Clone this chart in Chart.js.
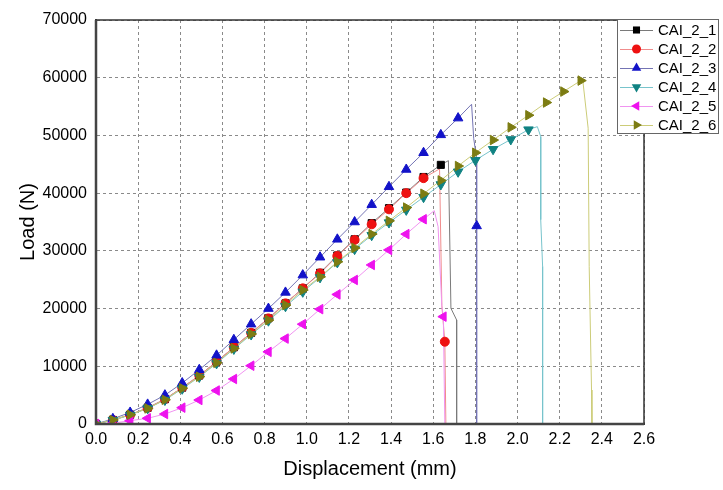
<!DOCTYPE html>
<html>
<head>
<meta charset="utf-8">
<script src="https://cdn.jsdelivr.net/npm/chart.js@4.4.0/dist/chart.umd.min.js"></script>
<style>
  html, body { margin: 0; background: #fff; }
</style>
</head>
<body>
<canvas id="loadChart" width="723" height="490"></canvas>
<script>
// displacement (mm) at each marker
const dispSteps = [0, 0.08, 0.162, 0.245, 0.327, 0.409, 0.49, 0.572, 0.654, 0.736, 0.818, 0.899, 0.981,
  1.063, 1.145, 1.227, 1.308, 1.39, 1.472, 1.554, 1.636, 1.718, 1.80, 1.884, 1.968, 2.052, 2.136, 2.218, 2.300];

const seriesNames = ['CAI_2_1', 'CAI_2_2', 'CAI_2_3', 'CAI_2_4', 'CAI_2_5', 'CAI_2_6'];

// load (N) at each marker, up to failure
const load1 = [0, 700, 1600, 2800, 4300, 6300, 8400, 10800, 13300, 15800, 18300, 20900, 23500, 26200, 29200, 32000, 34800, 37400, 40100, 42800, 44900];
const load2 = [0, 700, 1600, 2800, 4300, 6300, 8400, 10800, 13300, 15800, 18300, 20900, 23500, 26100, 29100, 31900, 34600, 37200, 40000, 42600];
const load3 = [0, 900, 2000, 3400, 5000, 7100, 9400, 11900, 14600, 17300, 20000, 22800, 25800, 28900, 32000, 35000, 38000, 41100, 44100, 47000, 50100, 53000];
const load4 = [0, 650, 1550, 2700, 4150, 6100, 8150, 10500, 13000, 15500, 17900, 20400, 22900, 25400, 28000, 30300, 32700, 34900, 37100, 39300, 41500, 43700, 45700, 47600, 49300, 51000];
const load5 = [0, 150, 570, 990, 1730, 2830, 4160, 5800, 7800, 10100, 12500, 14800, 17300, 19900, 22450, 24960, 27560, 30160, 32900, 35480];
const load6 = [0, 700, 1600, 2700, 4200, 6200, 8200, 10600, 13100, 15600, 18000, 20600, 23200, 25500, 28100, 30500, 32900, 35200, 37500, 39900, 42200, 44700, 47000, 49200, 51400, 53500, 55700, 57600, 59500];

// peak and failure drop after the last marker
const tail1X = [1.672, 1.684, 1.711, 1.711];
const tail1Y = [45630, 20050, 18020, 0];
const tail2X = [1.630, 1.641, 1.655, 1.660];
const tail2Y = [44200, 20500, 14260, 0];
const tail3X = [1.782, 1.792, 1.806, 1.806, 1.806];
const tail3Y = [55400, 49500, 46000, 34320, 0];
const tail4X = [2.094, 2.110, 2.110, 2.119, 2.119];
const tail4Y = [51520, 49800, 35400, 27300, 0];
const tail5X = [1.605, 1.623, 1.641, 1.648, 1.655];
const tail5Y = [36970, 34200, 20330, 18600, 0];
const tail6X = [2.309, 2.335, 2.340, 2.351, 2.353];
const tail6Y = [59740, 51250, 27260, 5890, 0];

// index of the tail point that carries a marker (-1 = none)
const tailMarks = [-1, 2, 3, -1, 3, -1];

const xTicks = [0, 0.2, 0.4, 0.6, 0.8, 1.0, 1.2, 1.4, 1.6, 1.8, 2.0, 2.2, 2.4, 2.6];
const yTicks = [0, 10000, 20000, 30000, 40000, 50000, 60000, 70000];

const loads = [load1, load2, load3, load4, load5, load6];
const tailsX = [tail1X, tail2X, tail3X, tail4X, tail5X, tail6X];
const tailsY = [tail1Y, tail2Y, tail3Y, tail4Y, tail5Y, tail6Y];

const styles = [
  { marker: '#000000', line: '#7a7a7a', shape: 'rect', rot: 0, r: 5 },
  { marker: '#ee1111', line: '#f08c8c', shape: 'circle', rot: 0, r: 4.5 },
  { marker: '#1212c8', line: '#7474b4', shape: 'triangle', rot: 0, r: 5.5 },
  { marker: '#108282', line: '#78c4cc', shape: 'triangle', rot: 180, r: 5.5 },
  { marker: '#ee12ee', line: '#f094f0', shape: 'triangle', rot: 270, r: 5.5 },
  { marker: '#7c7c12', line: '#cccc78', shape: 'triangle', rot: 90, r: 5.5 }
];

const FONT = '"Liberation Sans", Arial, sans-serif';

const datasets = [];
seriesNames.forEach((name, s) => {
  const st = styles[s];
  const steps = loads[s].map((y, i) => ({ x: dispSteps[i], y }));
  const tail = tailsX[s].map((x, i) => ({ x, y: tailsY[s][i] }));
  // later series sit on top, lines under markers
  datasets.push({
    label: name + ' line',
    data: steps.concat(tail),
    order: 100 - s,
    showLine: true,
    borderColor: st.line,
    borderWidth: 1,
    pointRadius: 0,
    tension: 0
  });
  const marks = tailMarks[s] >= 0 ? steps.concat([tail[tailMarks[s]]]) : steps;
  datasets.push({
    label: name,
    data: marks,
    order: 50 - s,
    showLine: false,
    pointStyle: st.shape,
    rotation: st.rot,
    pointRadius: st.r,
    backgroundColor: st.marker,
    borderColor: st.marker,
    borderWidth: 1
  });
});

function drawMarker(ctx, st, x, y) {
  ctx.save();
  ctx.translate(x, y);
  ctx.rotate(st.rot * Math.PI / 180);
  ctx.fillStyle = st.marker;
  ctx.beginPath();
  if (st.shape === 'rect') {
    const h = st.r * Math.SQRT1_2;
    ctx.rect(-h, -h, 2 * h, 2 * h);
  } else if (st.shape === 'circle') {
    ctx.arc(0, 0, st.r, 0, Math.PI * 2);
  } else {
    const r = st.r;
    ctx.moveTo(0, -r);
    ctx.lineTo(r * Math.sin(Math.PI * 2 / 3), -r * Math.cos(Math.PI * 2 / 3));
    ctx.lineTo(-r * Math.sin(Math.PI * 2 / 3), -r * Math.cos(Math.PI * 2 / 3));
    ctx.closePath();
  }
  ctx.fill();
  ctx.restore();
}

const framePlugin = {
  id: 'frame',
  afterDraw(chart) {
    const { ctx, chartArea: a } = chart;
    ctx.save();
    ctx.strokeStyle = '#333';
    ctx.lineWidth = 1.5;
    ctx.strokeRect(a.left, a.top, a.right - a.left, a.bottom - a.top);
    ctx.strokeStyle = '#444';
    ctx.lineWidth = 2.5;
    ctx.beginPath();
    ctx.moveTo(a.left, a.top);
    ctx.lineTo(a.left, a.bottom);
    ctx.lineTo(a.right, a.bottom);
    ctx.stroke();

    // legend box
    const bx = 617, by = 19, bw = 101, bh = 114;
    ctx.fillStyle = '#fff';
    ctx.fillRect(bx, by, bw, bh);
    ctx.strokeStyle = '#666';
    ctx.lineWidth = 1;
    ctx.strokeRect(bx + 0.5, by + 0.5, bw, bh);
    ctx.font = '15px ' + FONT;
    ctx.textBaseline = 'middle';
    seriesNames.forEach((name, i) => {
      const st = styles[i];
      const y = 30 + i * 19;
      ctx.strokeStyle = st.line;
      ctx.beginPath();
      ctx.moveTo(620, y + 0.5);
      ctx.lineTo(653, y + 0.5);
      ctx.stroke();
      drawMarker(ctx, st, 636.5, y);
      ctx.fillStyle = '#000';
      ctx.fillText(name, 658, y + 1);
    });
    ctx.restore();
  }
};

new Chart(document.getElementById('loadChart'), {
  type: 'scatter',
  data: { datasets },
  options: {
    responsive: false,
    animation: false,
    layout: { padding: { top: 20, right: 79, bottom: 0, left: 0 } },
    plugins: { legend: { display: false }, tooltip: { enabled: false } },
    scales: {
      x: {
        type: 'linear',
        min: 0,
        max: 2.6,
        afterFit(scale) { scale.height = 66; },
        afterBuildTicks(scale) { scale.ticks = xTicks.map(v => ({ value: v })); },
        ticks: {
          color: '#000',
          font: { family: FONT, size: 16 },
          padding: 6,
          maxRotation: 0,
          callback: v => v.toFixed(1)
        },
        grid: { color: '#8a8a8a', drawTicks: false },
        border: { color: '#444', width: 2, dash: [3, 3] },
        title: {
          display: true,
          text: 'Displacement (mm)',
          color: '#000',
          font: { family: FONT, size: 20 },
          padding: { top: 0, bottom: 9 }
        }
      },
      y: {
        type: 'linear',
        min: 0,
        max: 70000,
        afterFit(scale) { scale.width = 96; },
        afterBuildTicks(scale) { scale.ticks = yTicks.map(v => ({ value: v })); },
        ticks: {
          color: '#000',
          font: { family: FONT, size: 16 },
          padding: 9,
          callback: v => String(v)
        },
        grid: { color: '#8a8a8a', drawTicks: false },
        border: { color: '#444', width: 2, dash: [3, 3] },
        title: {
          display: true,
          text: 'Load (N)',
          color: '#000',
          font: { family: FONT, size: 20 },
          padding: { top: 16, bottom: 0 }
        }
      }
    }
  },
  plugins: [framePlugin]
});
</script>
</body>
</html>
